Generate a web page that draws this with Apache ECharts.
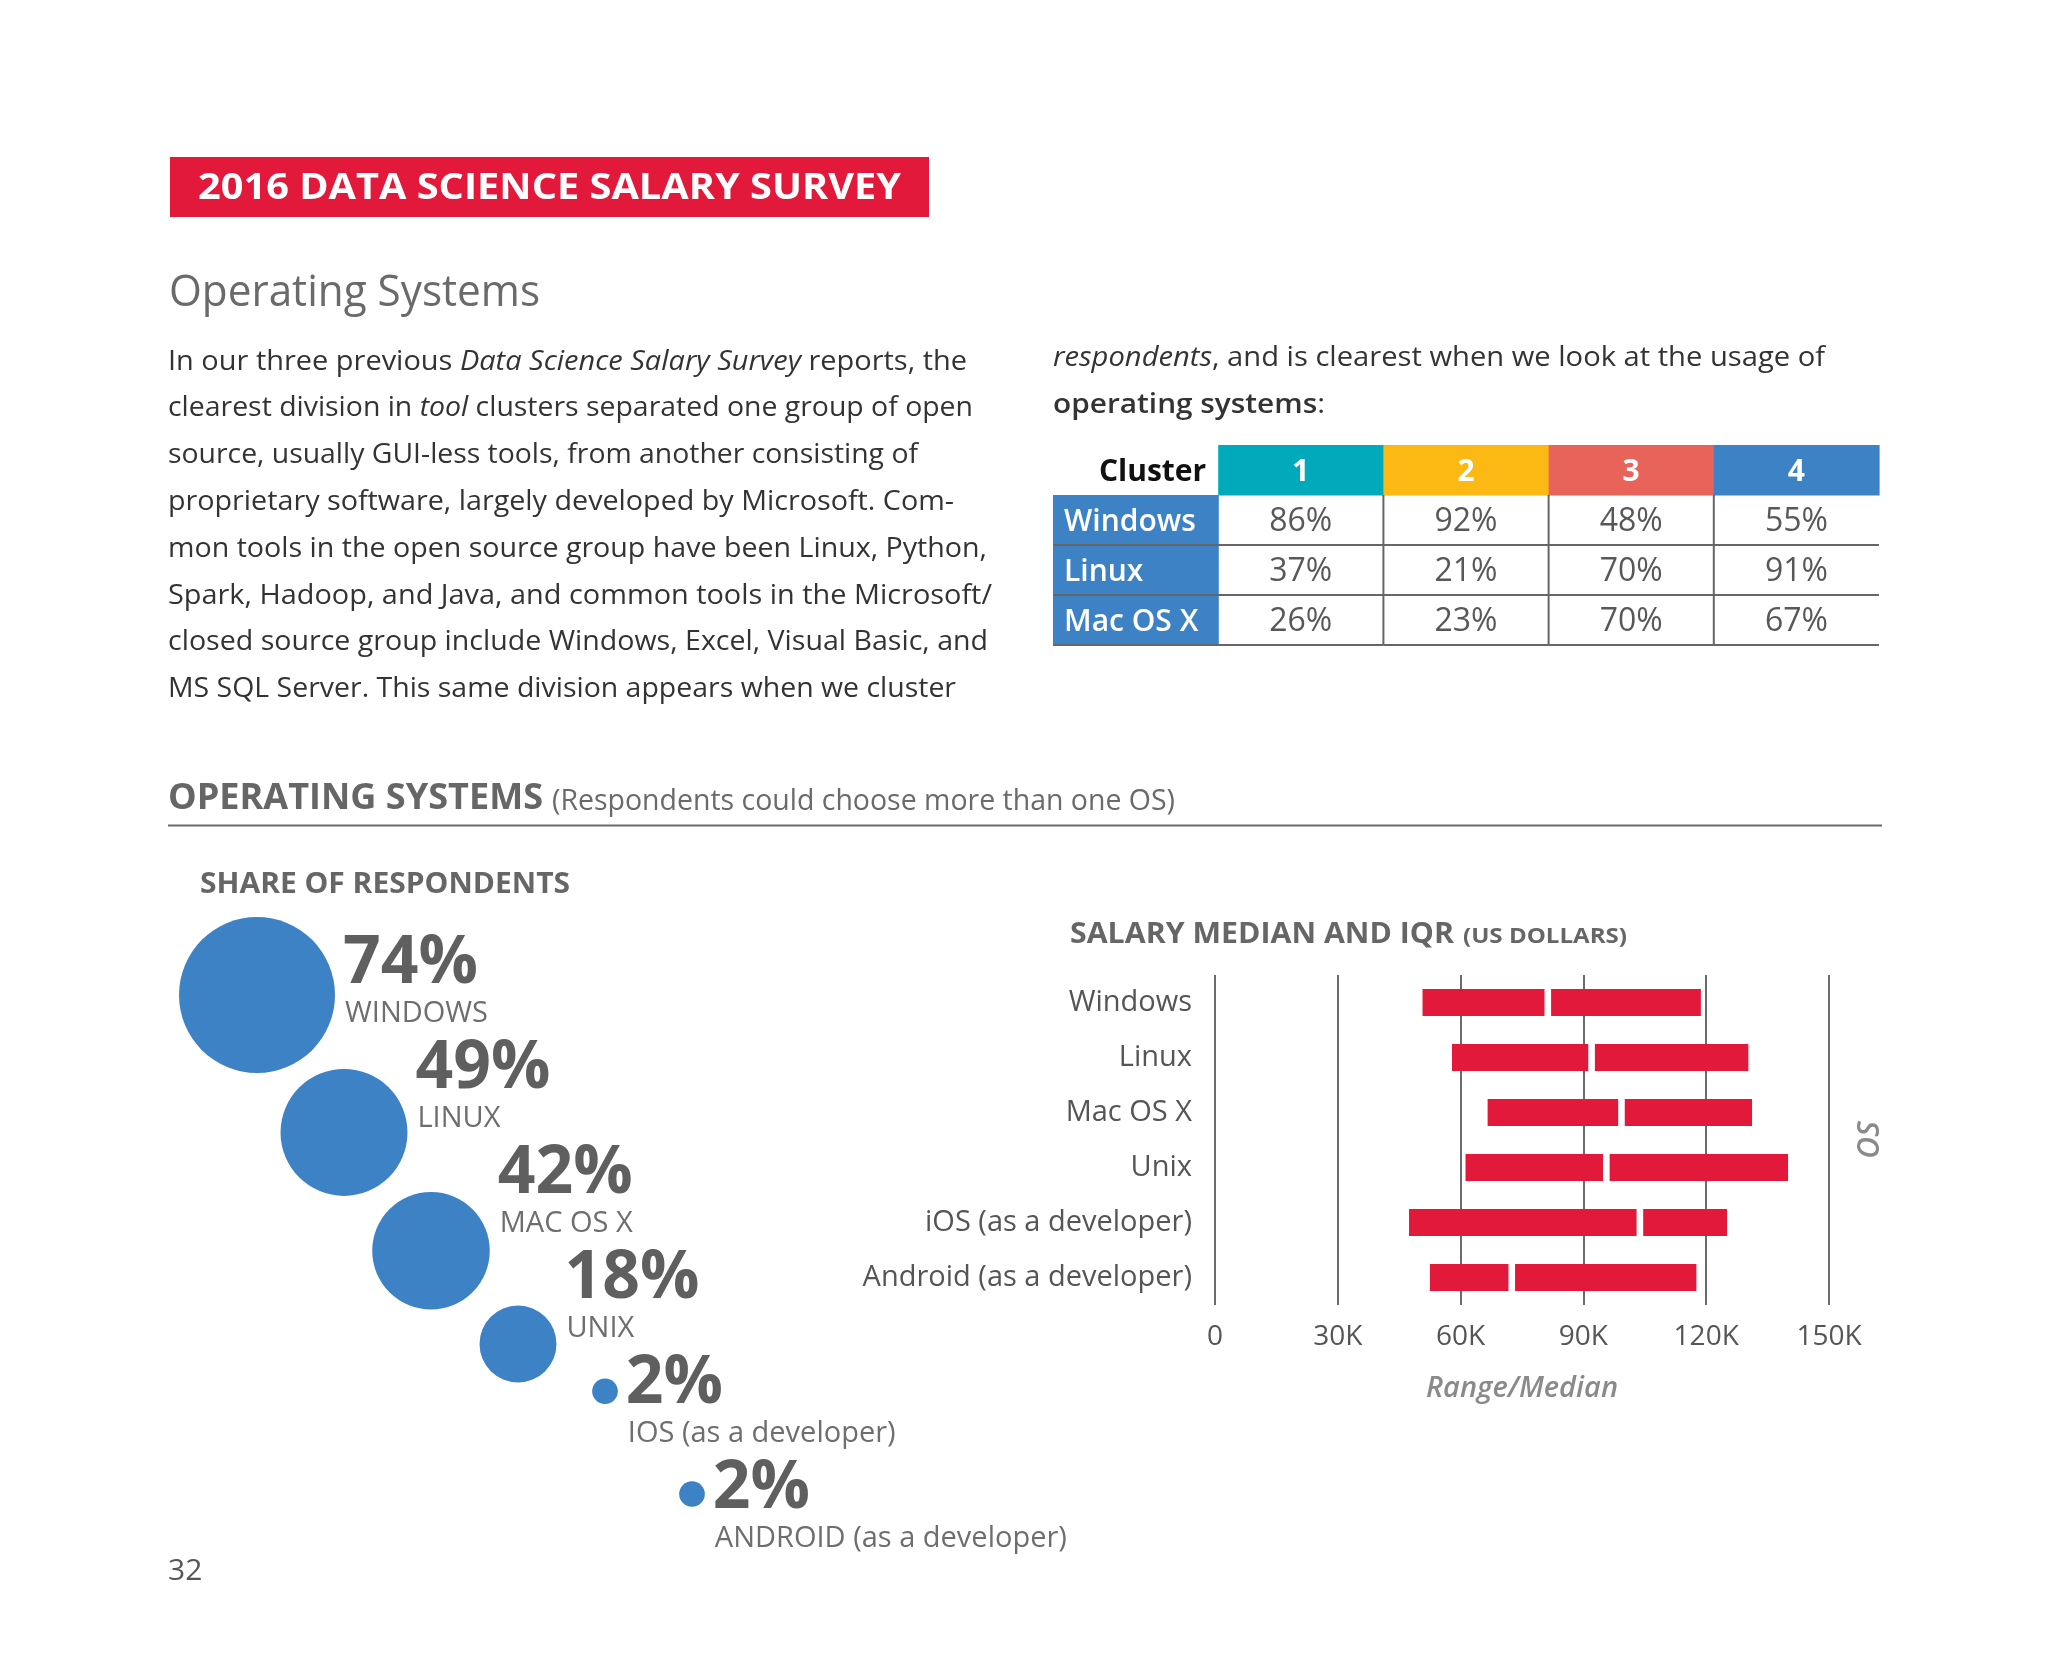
<!DOCTYPE html>
<html><head><meta charset="utf-8">
<script src="https://cdn.jsdelivr.net/npm/echarts@6/dist/echarts.min.js"></script>
<style>html,body{margin:0;padding:0;background:#fff}#c{width:2048px;height:1655px}</style>
</head><body><div id="c"></div>
<script>
// ---------------- DATA ----------------
const shareNames = ['WINDOWS', 'LINUX', 'MAC OS X', 'UNIX', 'IOS (as a developer)', 'ANDROID (as a developer)'];
const shareValues = [74, 49, 42, 18, 2, 2];

const salaryOS = ['Windows', 'Linux', 'Mac OS X', 'Unix', 'iOS (as a developer)', 'Android (as a developer)'];
const salaryQ1 = [50700, 57900, 66600, 61200, 47400, 52500];
const salaryMedian = [81300, 92000, 99300, 95600, 103800, 72500];
const salaryQ3 = [118700, 130300, 131200, 140000, 125100, 117600];
const salaryTicks = [0, 30000, 60000, 90000, 120000, 150000];

const clusters = ['1', '2', '3', '4'];
const tableOS = ['Windows', 'Linux', 'Mac OS X'];
const windowsPct = [86, 92, 48, 55];
const linuxPct = [37, 21, 70, 91];
const macPct = [26, 23, 70, 67];
const tablePct = [windowsPct, linuxPct, macPct];

// ---------------- STYLE / LAYOUT ----------------
const FONT = "'Open Sans','Noto Sans',sans-serif";
const RED = '#E2193A';
const BLUE = '#3C82C4';
const clusterColors = ['#00AABB', '#FDB913', '#E8635A', '#3D82C4'];

const mctx = document.createElement('canvas').getContext('2d');
function segFont(seg, size, weight) {
  const st = seg.st === 'i' ? 'italic' : 'normal';
  const w = seg.st === 'b' ? '600' : (weight || 'normal');
  return st + ' ' + w + ' ' + size + 'px ' + FONT;
}
function measureSegs(segs, size, weight) {
  let w = 0;
  segs.forEach(s => { mctx.font = segFont(s, size, weight); w += mctx.measureText(s.t).width; });
  return w;
}
function txt(x, y, segs, o) {
  if (typeof segs === 'string') segs = [{ t: segs }];
  const size = o.size, weight = o.weight || 'normal';
  let sx = o.target ? o.target / measureSegs(segs, size, weight) : 1;
  const rich = {
    n: { fontSize: size, fontFamily: FONT, fontWeight: weight, fill: o.fill },
    i: { fontSize: size, fontFamily: FONT, fontWeight: weight, fontStyle: 'italic', fill: o.fill },
    b: { fontSize: size, fontFamily: FONT, fontWeight: '600', fill: o.fill }
  };
  const text = segs.map(s => '{' + (s.st || 'n') + '|' + s.t + '}').join('');
  return {
    type: 'text', x: x, y: y, scaleX: sx, scaleY: 1, originX: 0, originY: 0, silent: true, z: 10,
    style: { text: text, rich: rich, fontSize: size, fontFamily: FONT, fontWeight: weight, fill: o.fill,
      align: o.align || 'left', verticalAlign: 'middle' }
  };
}

// body text lines (as printed)
const bodyLeft = [
  [{ t: 'In our three previous ' }, { t: 'Data Science Salary Survey', st: 'i' }, { t: ' reports, the' }],
  [{ t: 'clearest division in ' }, { t: 'tool', st: 'i' }, { t: ' clusters separated one group of open' }],
  [{ t: 'source, usually GUI-less tools, from another consisting of' }],
  [{ t: 'proprietary software, largely developed by Microsoft. Com-' }],
  [{ t: 'mon tools in the open source group have been Linux, Python,' }],
  [{ t: 'Spark, Hadoop, and Java, and common tools in the Microsoft/' }],
  [{ t: 'closed source group include Windows, Excel, Visual Basic, and' }],
  [{ t: 'MS SQL Server. This same division appears when we cluster' }]
];
const bodyLeftWidths = [799, 805, 750, 786, 819, 824, 820, 788];
const bodyRight = [
  [{ t: 'respondents', st: 'i' }, { t: ', and is clearest when we look at the usage of' }],
  [{ t: 'operating systems', st: 'b' }, { t: ':' }]
];
const bodyRightWidths = [772, 272];

const graphics = [];
graphics.push({ type: 'rect', shape: { x: 170, y: 157, width: 759, height: 60 }, style: { fill: RED }, silent: true });
graphics.push(txt(198, 189, '2016 DATA SCIENCE SALARY SURVEY', { size: 36, weight: 'bold', fill: '#ffffff', target: 703 }));
graphics.push(txt(169, 293, 'Operating Systems', { size: 44, fill: '#6a6a6a', target: 371 }));
bodyLeft.forEach((segs, i) => graphics.push(txt(168, 362 + i * 46.8, segs, { size: 27, fill: '#333333', target: bodyLeftWidths[i] })));
bodyRight.forEach((segs, i) => graphics.push(txt(1053, 358 + i * 47, segs, { size: 27, fill: '#333333', target: bodyRightWidths[i] })));

graphics.push(txt(168, 799, 'OPERATING SYSTEMS', { size: 35, weight: 'bold', fill: '#666666', target: 375 }));
graphics.push(txt(552, 801, '(Respondents could choose more than one OS)', { size: 30, fill: '#6a6a6a', target: 623 }));
graphics.push({ type: 'line', shape: { x1: 168, y1: 825.5, x2: 1882, y2: 825.5 }, style: { stroke: '#6a6a6a', lineWidth: 2 }, silent: true });
graphics.push(txt(200, 885, 'SHARE OF RESPONDENTS', { size: 29, weight: 'bold', fill: '#666666', target: 370 }));
graphics.push(txt(1070, 935, 'SALARY MEDIAN AND IQR', { size: 29, weight: 'bold', fill: '#666666', target: 384 }));
graphics.push(txt(1463, 937, '(US DOLLARS)', { size: 22, weight: 'bold', fill: '#666666', target: 164 }));
graphics.push(txt(168, 1571, '32', { size: 30, fill: '#555555' }));

// bubble layout: label rows evenly stacked; bubbles stacked under each other
// (touching the previous bubble) and never above their own label row.
const shareMax = Math.max(...shareValues);
const R_MAX = 78;
const radii = shareValues.map(v => R_MAX * Math.sqrt(v / shareMax));
const LABEL_TOP = 964, LABEL_STEP = 105;
const DX = 87, OVERLAP = 4;
const centers = [[257, 995]];
for (let i = 1; i < shareValues.length; i++) {
  const p = centers[i - 1];
  const chainY = p[1] + radii[i - 1] + radii[i] - OVERLAP;
  const rowY = LABEL_TOP + i * LABEL_STEP + 5;
  centers.push([p[0] + DX, Math.max(chainY, rowY)]);
}
shareValues.forEach((v, i) => {
  const lx = centers[i][0] + radii[i] + 10;
  const ly = LABEL_TOP + i * LABEL_STEP;
  graphics.push(txt(lx - 2, ly, v + '%', { size: 66, weight: 'bold', fill: '#5f5f5f' }));
  graphics.push(txt(lx, ly + 50, shareNames[i], { size: 29, fill: '#6e6e6e' }));
});
const bubbleData = shareValues.map((v, i) => [centers[i][0], centers[i][1], v]);

// salary data
const salaryData = salaryOS.map((n, i) => [salaryQ1[i], salaryMedian[i], salaryQ3[i], i]);

// table data: [col, row, kind, index, value]; kind 0 corner,1 header,2 row header,3 value
const tableData = [[0, 0, 0, 0, 0]];
clusters.forEach((c, ci) => tableData.push([ci + 1, 0, 1, ci, 0]));
tableOS.forEach((os, ri) => {
  tableData.push([0, ri + 1, 2, ri, 0]);
  clusters.forEach((c, ci) => tableData.push([ci + 1, ri + 1, 3, ri, tablePct[ri][ci]]));
});

const chart = echarts.init(document.getElementById('c'), null, { renderer: 'canvas' });
chart.setOption({
  animation: false,
  backgroundColor: '#ffffff',
  grid: [
    { left: 0, top: 0, width: 2048, height: 1655, outerBoundsMode: 'none', containLabel: false },
    { left: 1215, top: 975, width: 614, height: 330, outerBoundsMode: 'none', containLabel: false },
    { left: 1053, top: 445, width: 826, height: 200, outerBoundsMode: 'none', containLabel: false }
  ],
  xAxis: [
    { gridIndex: 0, type: 'value', min: 0, max: 2048, show: false },
    {
      gridIndex: 1, type: 'value', min: salaryTicks[0], max: salaryTicks[salaryTicks.length - 1], interval: 30000,
      axisLine: { show: false }, axisTick: { show: false },
      splitLine: { show: true, showMinLine: true, showMaxLine: true, lineStyle: { color: '#6b6b6b', width: 2 } },
      axisLabel: { fontSize: 28, fontFamily: FONT, color: '#555555', margin: 18,
        formatter: v => v === 0 ? '0' : (v / 1000) + 'K' },
      name: 'Range/Median', nameLocation: 'middle', nameGap: 69,
      nameTextStyle: { fontSize: 29, fontFamily: FONT, fontStyle: 'italic', fontWeight: 600, color: '#8a8a8a' }
    },
    { gridIndex: 2, type: 'category', data: ['Cluster'].concat(clusters), show: false }
  ],
  yAxis: [
    { gridIndex: 0, type: 'value', min: 0, max: 1655, inverse: true, show: false },
    {
      gridIndex: 1, type: 'category', data: salaryOS, inverse: true,
      axisLine: { show: false }, axisTick: { show: false }, splitLine: { show: false },
      axisLabel: { fontSize: 29, fontFamily: FONT, color: '#555555', margin: 23 }
    },
    {
      gridIndex: 1, type: 'category', data: salaryOS, inverse: true, position: 'right',
      axisLine: { show: false }, axisTick: { show: false }, axisLabel: { show: false }, splitLine: { show: false },
      name: 'OS', nameLocation: 'middle', nameRotate: 90, nameGap: 26,
      nameTextStyle: { fontSize: 30, fontFamily: FONT, fontStyle: 'italic', fontWeight: 600, color: '#8a8a8a' }
    },
    { gridIndex: 2, type: 'category', data: ['Cluster'].concat(tableOS), inverse: true, show: false }
  ],
  graphic: { elements: graphics },
  series: [
    {
      type: 'scatter', xAxisIndex: 0, yAxisIndex: 0, data: bubbleData, silent: true,
      symbolSize: v => 2 * R_MAX * Math.sqrt(v[2] / shareMax),
      itemStyle: { color: BLUE, opacity: 1 }
    },
    {
      type: 'custom', xAxisIndex: 1, yAxisIndex: 1, data: salaryData, silent: true,
      encode: { x: [0, 1, 2], y: 3 },
      renderItem: function (params, api) {
        const idx = api.value(3);
        const y = api.coord([0, idx])[1];
        const h = api.size([0, 1])[1] * 0.49;
        const x1 = api.coord([api.value(0), idx])[0];
        const xm = api.coord([api.value(1), idx])[0];
        const x3 = api.coord([api.value(2), idx])[0];
        const gap = 3.3;
        return {
          type: 'group', children: [
            { type: 'rect', shape: { x: x1, y: y - h / 2, width: xm - gap - x1, height: h }, style: { fill: RED } },
            { type: 'rect', shape: { x: xm + gap, y: y - h / 2, width: x3 - xm - gap, height: h }, style: { fill: RED } }
          ]
        };
      }
    },
    {
      type: 'custom', xAxisIndex: 2, yAxisIndex: 3, data: tableData, silent: true,
      encode: { x: 0, y: 1 },
      renderItem: function (params, api) {
        const col = api.value(0), row = api.value(1), kind = api.value(2), k = api.value(3), val = api.value(4);
        const c = api.coord([col, row]);
        const s = api.size([1, 1]);
        const w = s[0], h = s[1];
        const x0 = c[0] - w / 2, y0 = c[1] - h / 2;
        const ty = c[1] + 2;
        const ch = [];
        const line = (xa, ya, xb, yb) => ({ type: 'line', shape: { x1: xa, y1: ya, x2: xb, y2: yb }, style: { stroke: '#666666', lineWidth: 2 }, z2: 5 });
        if (kind === 0) {
          ch.push({ type: 'text', x: x0 + w - 12, y: ty, style: { text: 'Cluster', fontSize: 30, fontFamily: FONT, fontWeight: 'bold', fill: '#111111', align: 'right', verticalAlign: 'middle' } });
        } else if (kind === 1) {
          ch.push({ type: 'rect', shape: { x: x0, y: y0, width: w + 0.6, height: h + 0.6 }, style: { fill: clusterColors[k] } });
          ch.push({ type: 'text', x: c[0], y: ty, style: { text: clusters[k], fontSize: 30, fontFamily: FONT, fontWeight: 'bold', fill: '#ffffff', align: 'center', verticalAlign: 'middle' }, z2: 6 });
        } else if (kind === 2) {
          ch.push({ type: 'rect', shape: { x: x0, y: y0, width: w + 0.6, height: h + 0.6 }, style: { fill: '#3D82C4' } });
          ch.push({ type: 'text', x: x0 + 11, y: ty, style: { text: tableOS[k], fontSize: 30, fontFamily: FONT, fontWeight: 600, fill: '#ffffff', align: 'left', verticalAlign: 'middle' }, z2: 6 });
          ch.push(line(x0, y0 + h, x0 + w, y0 + h));
        } else {
          ch.push({ type: 'text', x: c[0], y: ty, style: { text: val + '%', fontSize: 32, fontFamily: FONT, fill: '#585858', align: 'center', verticalAlign: 'middle' } });
          ch.push(line(x0, y0 + h, x0 + w, y0 + h));
          if (col >= 2) ch.push(line(x0, y0, x0, y0 + h));
        }
        return { type: 'group', children: ch };
      }
    }
  ]
});
</script>
</body></html>
